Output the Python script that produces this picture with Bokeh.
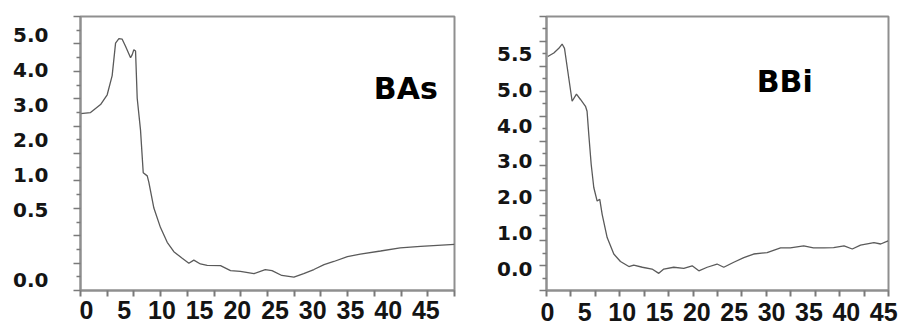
import numpy as np
from bokeh.plotting import figure
from bokeh.layouts import row
from bokeh.models import LinearAxis, FixedTicker, Range1d, Label
from bokeh.embed import file_html
from bokeh.resources import INLINE

# ---- data (y values are positions on each panel's labelled scale) ----
bas_x = [-0.8, 0.53, 1.86, 2.74, 3.4, 3.85, 4.29, 4.73, 5.17, 5.84, 6.06, 6.27, 6.5,
         6.72, 7.16, 7.52, 8.05, 8.26, 8.93, 9.81, 10.7, 11.58, 12.69, 13.57, 14.23,
         15.1, 16.0, 17.77, 19.1, 20.4, 22.2, 23.7, 24.6, 25.9, 27.5, 28.8, 30.15,
         31.5, 32.8, 34.6, 36.3, 39.0, 41.6, 44.3, 48.8]
bas_y = [4.75, 4.78, 5.01, 5.29, 5.84, 6.77, 6.9, 6.88, 6.68, 6.35, 6.44, 6.58, 6.54,
         5.19, 4.28, 3.06, 2.97, 2.79, 2.05, 1.49, 1.07, 0.8, 0.61, 0.47, 0.56,
         0.45, 0.41, 0.4, 0.26, 0.24, 0.17, 0.29, 0.26, 0.12, 0.07, 0.17, 0.29,
         0.43, 0.52, 0.66, 0.73, 0.82, 0.91, 0.95, 1.01]

bbi_x = [0.04, 0.85, 1.52, 1.96, 2.28, 2.72, 3.3, 3.88, 4.42, 5.09, 5.3, 5.53, 5.85,
         6.2, 6.65, 7.0, 7.32, 7.99, 8.88, 9.77, 10.9, 11.55, 12.7, 14.0, 14.9,
         15.57, 16.9, 18.25, 19.37, 20.26, 21.38, 22.7, 23.6, 24.94, 26.28, 27.6,
         29.4, 31.2, 32.5, 34.3, 35.6, 37.0, 38.3, 39.7, 40.8, 41.9, 43.7, 44.6, 45.6]
bbi_y = [5.93, 6.03, 6.16, 6.28, 6.16, 5.52, 4.68, 4.88, 4.73, 4.54, 4.4, 3.75, 2.92,
         2.27, 1.89, 1.94, 1.52, 0.87, 0.41, 0.2, 0.06, 0.1, 0.04, -0.01, -0.13,
         -0.01, 0.04, 0.01, 0.08, -0.06, 0.04, 0.13, 0.04, 0.18, 0.31, 0.41,
         0.45, 0.58, 0.58, 0.64, 0.58, 0.58, 0.59, 0.64, 0.55, 0.66, 0.73, 0.69, 0.78]

x_tick_values = [0, 5, 10, 15, 20, 25, 30, 35, 40, 45]
x_tick_labels = ["0", "5", "10", "15", "20", "25", "30", "35", "40", "45"]

bas_ytick_pos = [0, 2, 3, 4, 5, 6, 7]
bas_ytick_labels = ["0.0", "0.5", "1.0", "2.0", "3.0", "4.0", "5.0"]
bbi_ytick_pos = [0, 1, 2, 3, 4, 5, 6]
bbi_ytick_labels = ["0.0", "1.0", "2.0", "3.0", "4.0", "5.0", "5.5"]

FRAME = "#8f8f8f"
TICK = "#7a7a7a"
TXT = "#141414"


def panel(w, h, xr, yr, borders, xs, ys, yt_pos, yt_lab, n_xt, n_yt, ystand, xstand,
          xlh, name, name_xy):
    left, right, top, bottom = borders
    p = figure(width=w, height=h, x_range=Range1d(*xr), y_range=Range1d(*yr),
               output_backend="svg", toolbar_location=None,
               x_axis_location=None, y_axis_location=None, min_border=0,
               min_border_left=left, min_border_right=right,
               min_border_top=top, min_border_bottom=bottom)
    p.grid.visible = False
    p.outline_line_color = FRAME
    p.outline_line_width = 2
    p.background_fill_color = "white"
    p.border_fill_color = "white"

    xt = np.linspace(xr[0], xr[1], n_xt + 1)
    yt = np.linspace(yr[0], yr[1], n_yt + 1)
    yminor = list((yt[:-1] + yt[1:]) / 2)

    # x axis: labels at the label positions, tick marks drawn as minor ticks
    xaxis = LinearAxis(ticker=FixedTicker(ticks=x_tick_values, minor_ticks=list(xt)),
                       major_label_overrides={v: s for v, s in zip(x_tick_values, x_tick_labels)},
                       axis_line_color=FRAME, axis_line_width=2,
                       major_tick_line_color=None, major_tick_out=0, major_tick_in=0,
                       minor_tick_line_color=TICK, minor_tick_line_width=2,
                       minor_tick_out=6, minor_tick_in=0,
                       major_label_standoff=xstand,
                       major_label_text_font="Liberation Sans", major_label_text_font_style="bold",
                       major_label_text_font_size="25px", major_label_text_line_height=xlh,
                       major_label_text_color=TXT)
    p.add_layout(xaxis, "below")

    # y: tick-mark axis nearest the frame (added first), label axis outside it
    ytick = LinearAxis(ticker=FixedTicker(ticks=list(yt), minor_ticks=yminor),
                       major_label_text_font_size="0px", major_label_text_color=None,
                       major_label_standoff=0,
                       major_tick_in=0, major_tick_out=7, minor_tick_in=0, minor_tick_out=4,
                       axis_line_color=FRAME, axis_line_width=2,
                       major_tick_line_color=TICK, minor_tick_line_color=TICK,
                       major_tick_line_width=1.5, minor_tick_line_width=1.5)
    ylab = LinearAxis(ticker=FixedTicker(ticks=yt_pos, minor_ticks=[]),
                      major_label_overrides={v: s for v, s in zip(yt_pos, yt_lab)},
                      axis_line_color=None, major_tick_line_color=None,
                      minor_tick_line_color=None, major_tick_out=0, major_tick_in=0,
                      major_label_standoff=ystand,
                      major_label_text_font="DejaVu Sans", major_label_text_font_style="bold",
                      major_label_text_font_size="20px", major_label_text_color=TXT)
    p.add_layout(ytick, "left")
    p.add_layout(ylab, "left")

    p.line(xs, ys, line_color="#5a5a5a", line_width=1.3)

    p.add_layout(Label(x=name_xy[0], y=name_xy[1], text=name, text_font="DejaVu Sans",
                       text_font_style="bold", text_font_size="30px", text_color="#000000",
                       text_baseline="alphabetic"))
    return p


p1 = panel(460, 334, (-0.8, 48.8), (-0.31, 7.53), (80, 6, 16, 36),
           bas_x, bas_y, bas_ytick_pos, bas_ytick_labels, 14, 10, 25, 4, 0.75, "BAs", (38.1, 5.47))
p2 = panel(441, 334, (-0.13, 45.65), (-0.61, 7.05), (86, 13, 15, 44),
           bbi_x, bbi_y, bbi_ytick_pos, bbi_ytick_labels, 14, 11, 7, 6, 0.85, "BBi", (28.0, 5.24))

layout = row(p1, p2)
open("out.html", "w").write(file_html(layout, INLINE))
